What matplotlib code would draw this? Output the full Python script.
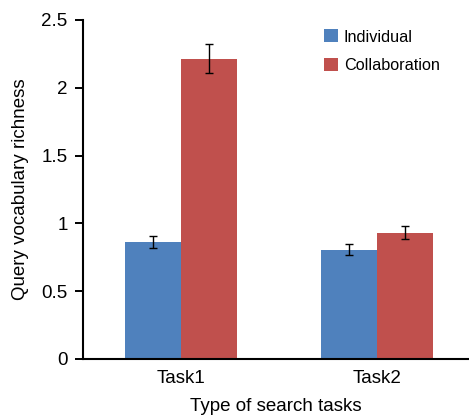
import numpy as np
import matplotlib
matplotlib.use('Agg')
import matplotlib.pyplot as plt

plt.rcParams['font.family'] = ['Liberation Sans', 'DejaVu Sans']
plt.rcParams['font.size'] = 13.5

tareas = ['Task1', 'Task2']
individual = [0.863, 0.804]
individual_err = [0.045, 0.041]
colaboracion = [2.215, 0.932]
colaboracion_err = [0.11, 0.048]

x = np.arange(len(tareas))
ancho = 0.286

fig = plt.figure(figsize=(4.69, 4.15), dpi=100)
ax = fig.add_axes([0.177, 0.135, 0.823, 0.817])

ax.bar(x - ancho / 2, individual, ancho, yerr=individual_err, color='#4F81BD',
       label='Individual', error_kw=dict(ecolor='black', elinewidth=1, capsize=3, capthick=1))
ax.bar(x + ancho / 2, colaboracion, ancho, yerr=colaboracion_err, color='#C0504D',
       label='Collaboration', error_kw=dict(ecolor='black', elinewidth=1, capsize=3, capthick=1))

ax.set_xlim(-0.5, 1.469)
ax.set_ylim(0, 2.5)
ax.set_yticks([0, 0.5, 1, 1.5, 2, 2.5])
ax.set_yticklabels(['0', '0.5', '1', '1.5', '2', '2.5'])
ax.set_xticks(x)
ax.set_xticklabels(tareas)
ax.tick_params(axis='x', length=0, pad=8)
ax.tick_params(axis='y', length=6, width=1.4, direction='out', pad=5)

for lado in ['top', 'right']:
    ax.spines[lado].set_visible(False)
for lado in ['left', 'bottom']:
    ax.spines[lado].set_linewidth(1.5)

ax.set_xlabel('Type of search tasks', labelpad=8)
ax.set_ylabel('Query vocabulary richness', labelpad=9)

ax.legend(loc='upper left', bbox_to_anchor=(0.587, 1.015), frameon=False, fontsize=11.7,
          handlelength=0.85, handleheight=0.85, handletextpad=0.35, labelspacing=0.85)

fig.savefig('out.png', dpi=100)
